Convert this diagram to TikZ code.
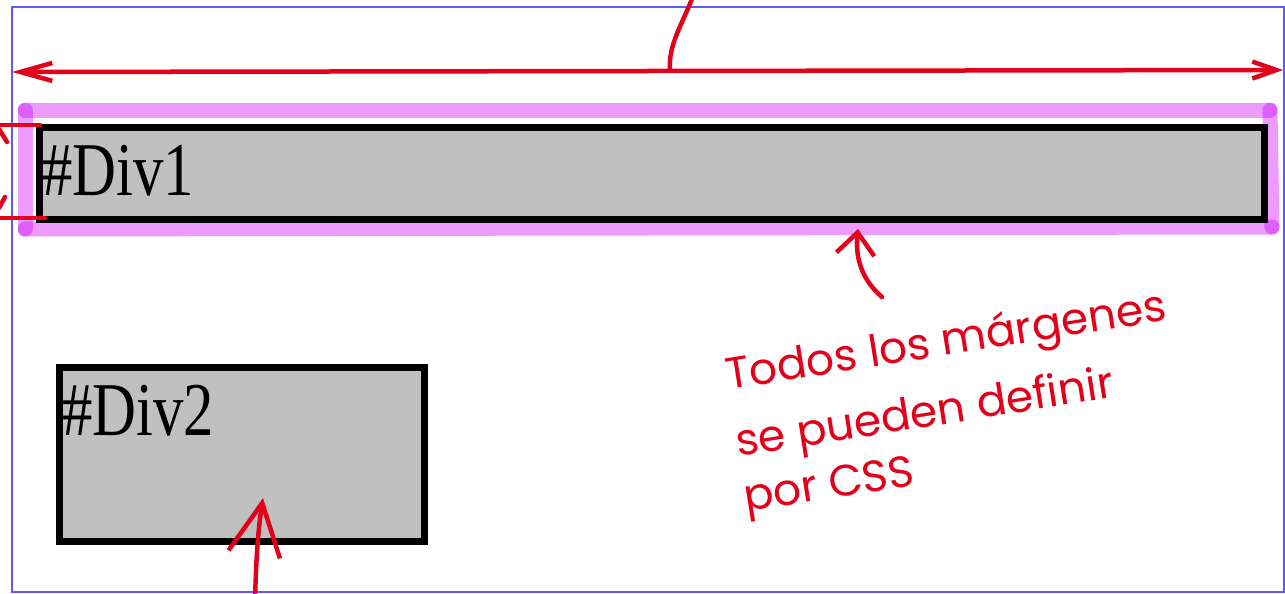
\documentclass[tikz,border=0pt]{standalone}
\usepackage{fontspec}
\setmainfont{Liberation Serif}
\newfontfamily\handfont{Poppins}
\usetikzlibrary{arrows.meta}
\definecolor{inkred}{RGB}{226,0,26}
\definecolor{frameblue}{RGB}{90,90,255}
\definecolor{hilite}{RGB}{238,155,255}
\definecolor{divgray}{RGB}{192,192,192}
\begin{document}
\begin{tikzpicture}[x=1pt,y=-1pt,
  divbox/.style={draw=black,line width=6.5pt,fill=divgray,inner sep=0pt,anchor=north west},
  divlabel/.style={anchor=base west,inner sep=0pt,font=\fontsize{76}{80}\selectfont,xscale=0.8},
  ink/.style={draw=inkred,line width=4.5pt,line cap=round,line join=round},
  hl/.style={draw=hilite,line width=15pt,line cap=round},
  notetext/.style={anchor=base west,inner sep=0pt,text=inkred,font=\handfont\fontsize{44}{48}\selectfont,rotate=9}
]
\useasboundingbox (0,0) rectangle (1285,594);
\fill[white] (0,0) rectangle (1285,594);
% frame
\draw[frameblue,line width=2pt] (12,7) rectangle (1284,592);
% boxes
\node[divbox,minimum width=1225pt,minimum height=92pt] (div1) at (36,124) {};
\node[divbox,minimum width=365pt,minimum height=174pt] (div2) at (56,364) {};
\node[divlabel] (div1lbl) at (42,195) {\#Div1};
\node[divlabel] (div2lbl) at (62,435) {\#Div2};
% highlight band
\coordinate (hTL) at (25,110);
\coordinate (hTR) at (1270,110);
\coordinate (hBR) at (1272,227);
\coordinate (hBL) at (25,229);
\begin{scope}[blend mode=multiply]
\draw[hl] (hTL) -- (hTR);
\draw[hl] (hTR) -- (hBR);
\draw[hl] (hBR) -- (hBL);
\draw[hl] (hBL) -- (hTL);
\end{scope}
% width arrow
\coordinate (wL) at (12,72);
\coordinate (wR) at (1283,70);
\draw[ink,{Straight Barb[length=32pt,width=18pt]}-{Straight Barb[length=24pt,width=17pt]}] (wL) -- (wR);
\coordinate (tickTop) at (694,-6);
\coordinate (tickBot) at (670,70);
\draw[ink] (tickTop) .. controls (682,25) and (668,45) .. (tickBot);
% left bracket
\coordinate (bT1) at (-5,125);
\coordinate (bT2) at (40,125);
\coordinate (bB1) at (-5,218);
\coordinate (bB2) at (45,218);
\draw[ink] (bT1) -- (bT2);
\draw[ink] (bB1) -- (bB2);
\coordinate (bTa) at (-1,129);
\coordinate (bTb) at (7,142);
\coordinate (bBa) at (-1,208);
\coordinate (bBb) at (5,197);
\draw[ink] (bTa) -- (bTb);
\draw[ink] (bBa) -- (bBb);
% arrow under div1
\coordinate (a1s) at (882,297);
\coordinate (a1e) at (858,229);
\draw[ink,-{Straight Barb[length=22pt,width=38pt]}] (a1s) .. controls (862,280) and (855,258) .. (a1e);
% arrow into div2
\coordinate (a2s) at (255,602);
\coordinate (a2e) at (263,498);
\draw[ink,-{Straight Barb[length=52pt,width=52pt]}] (a2s) .. controls (256,560) and (258,530) .. (a2e);
% note
\node[notetext] (note1) at (728,390) {Todos los márgenes};
\node[notetext] (note2) at (738,457) {se pueden definir};
\node[notetext] (note3) at (746,512) {por CSS};
\end{tikzpicture}
\end{document}
